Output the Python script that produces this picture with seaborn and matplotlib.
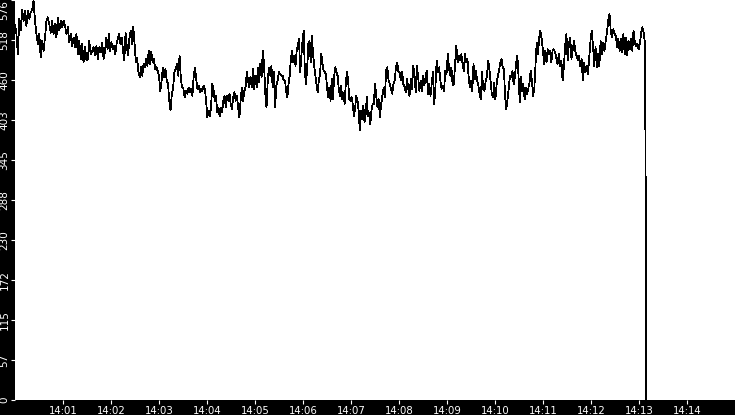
import numpy as np
import pandas as pd
import matplotlib
matplotlib.use("Agg")
import matplotlib.pyplot as plt
import matplotlib.dates as mdates
import seaborn as sns

# valores, por tramos de ~112.5 s cada uno
seg1 = [540, 527, 498, 549, 532, 562, 546, 561, 539, 561, 549, 558, 562, 575, 546, 527,
        513, 527, 493, 517, 503, 522, 546, 551, 541, 529, 546, 527, 541, 522, 551, 532,
        546, 537, 546, 539, 527, 537, 515, 527, 510, 522, 508, 527, 498, 517, 491, 513,
        486, 508, 489, 491, 517, 498, 503, 508, 496, 510, 491, 508, 501, 515, 491]
seg2 = [501, 522, 505, 527, 503, 515, 505, 510, 498, 513, 520, 527, 513, 522, 503, 489,
        529, 508, 496, 522, 532, 513, 537, 513, 486, 493, 472, 465, 479, 467, 484, 479,
        491, 481, 503, 484, 501, 486, 491, 477, 479, 474, 467, 445, 460, 479, 465, 477,
        460, 455, 431, 417, 441, 450, 472, 477, 484, 467, 496, 462, 450, 448, 436, 445,
        441, 450, 443, 448, 438, 467]
seg3 = [479, 462, 448, 453, 443, 448, 445, 453, 448, 431, 407, 417, 409, 421, 455, 448,
        431, 438, 414, 421, 409, 421, 414, 431, 438, 421, 438, 431, 441, 426, 419, 436,
        443, 431, 438, 421, 407, 431, 450, 431, 445, 450, 472, 460, 450, 465, 450, 477,
        448, 467, 450, 479, 457, 484, 465, 503, 484, 441, 421, 460, 479, 467, 481, 450,
        472, 421, 453, 460, 472, 469, 467, 467, 460]
seg4 = [460, 445, 436, 455, 467, 491, 503, 486, 496, 481, 503, 510, 520, 472, 496, 517,
        532, 472, 455, 479, 513, 517, 486, 525, 498, 481, 467, 453, 443, 462, 469, 498,
        486, 474, 472, 469, 450, 436, 450, 431, 462, 433, 465, 479, 472, 467, 448, 438,
        453, 433, 443, 426, 455, 472, 460, 433, 431, 436, 426, 409, 421, 438, 431, 417,
        388, 417, 405, 424, 400, 412, 436, 409, 414, 397, 417, 426, 426]
seg5 = [455, 438, 421, 433, 407, 426, 438, 450, 436, 474, 479, 460, 455, 448, 441, 455,
        460, 479, 486, 472, 472, 460, 472, 455, 450, 443, 462, 448, 438, 462, 448, 481,
        469, 443, 481, 465, 445, 460, 445, 467, 453, 465, 474, 441, 455, 438, 455, 472,
        426, 450, 489, 472, 479, 460, 448, 453, 445, 474, 469, 498, 479, 467, 479, 453,
        455, 486, 510, 486, 496, 489, 498, 484, 474]
seg6 = [498, 486, 491, 465, 450, 460, 445, 484, 462, 474, 460, 453, 441, 433, 472, 448,
        445, 460, 465, 489, 477, 460, 441, 436, 457, 433, 455, 467, 474, 486, 491, 479,
        477, 436, 419, 433, 450, 467, 465, 474, 455, 465, 484, 496, 467, 429, 465, 445,
        455, 433, 450, 441, 448, 457, 474, 460, 438, 448, 484, 515, 498, 522, 532, 520,
        505, 484, 503, 486, 505, 498, 503, 486, 503, 505]
seg7 = [501, 493, 484, 498, 481, 489, 460, 479, 510, 527, 489, 513, 522, 491, 505, 517,
        503, 496, 489, 496, 481, 491, 460, 486, 472, 481, 469, 493, 517, 532, 510, 481,
        508, 479, 498, 481, 517, 498, 515, 503, 517, 529, 546, 556, 532, 522, 534, 527,
        525, 508, 520, 503, 520, 501, 527, 498, 522, 496, 517, 505, 520, 503, 532, 515,
        510, 513, 505, 513, 529, 537, 529, 513]
segmentos = [seg1, seg2, seg3, seg4, seg5, seg6, seg7]
limites_s = [0, 112.5, 225, 337.5, 450, 562.5, 675, 789]

# caida final a cero
caida_valores = [251, 0]
caida_s = [788.6, 789.0]

y_max = 576
minutos_ticks = list(range(1, 15))

# construir la serie
segs_t = []
for seg, ini, fin in zip(segmentos, limites_s[:-1], limites_s[1:]):
    segs_t.append(np.linspace(ini, fin, len(seg), endpoint=False))
segundos = np.concatenate(segs_t + [np.array(caida_s)])
valores = np.concatenate([np.array(s, dtype=float) for s in segmentos] + [np.array(caida_valores, dtype=float)])

base = pd.Timestamp("2024-01-01 14:00:00")
df = pd.DataFrame({"hora": base + pd.to_timedelta(segundos, unit="s"), "valor": valores})

sns.set_style("white")
plt.rcParams["font.family"] = ["DejaVu Sans"]

fig = plt.figure(figsize=(7.35, 4.15), dpi=100, facecolor="black")
ax = fig.add_axes([15 / 735, 15 / 415, 720 / 735, 400 / 415])
ax.set_facecolor("white")

sns.lineplot(data=df, x="hora", y="valor", color="black", linewidth=0.55,
             antialiased=False, ax=ax)

ax.set_xlim(base, base + pd.Timedelta(minutes=15))
ax.set_ylim(0, y_max)
ax.set_xticks([base + pd.Timedelta(minutes=m) for m in minutos_ticks])
ax.xaxis.set_major_formatter(mdates.DateFormatter("%H:%M"))
yt = np.linspace(0, y_max, 11)
ax.set_yticks(yt)
ax.set_yticklabels([str(int(v)) for v in yt])

ax.set_xlabel("")
ax.set_ylabel("")
for s in ax.spines.values():
    s.set_visible(False)

ax.tick_params(axis="both", colors="white", length=3, width=0.8, pad=1, direction="out")
ax.tick_params(axis="x", labelsize=7.3)
ax.tick_params(axis="y", labelsize=7.5)
ax.tick_params(axis="both", left=True, bottom=True)
for lbl in ax.get_yticklabels():
    lbl.set_rotation(90)
    lbl.set_va("center")
ax.get_yticklabels()[-1].set_va("top")

fig.savefig("out.png", dpi=100, facecolor="black")
